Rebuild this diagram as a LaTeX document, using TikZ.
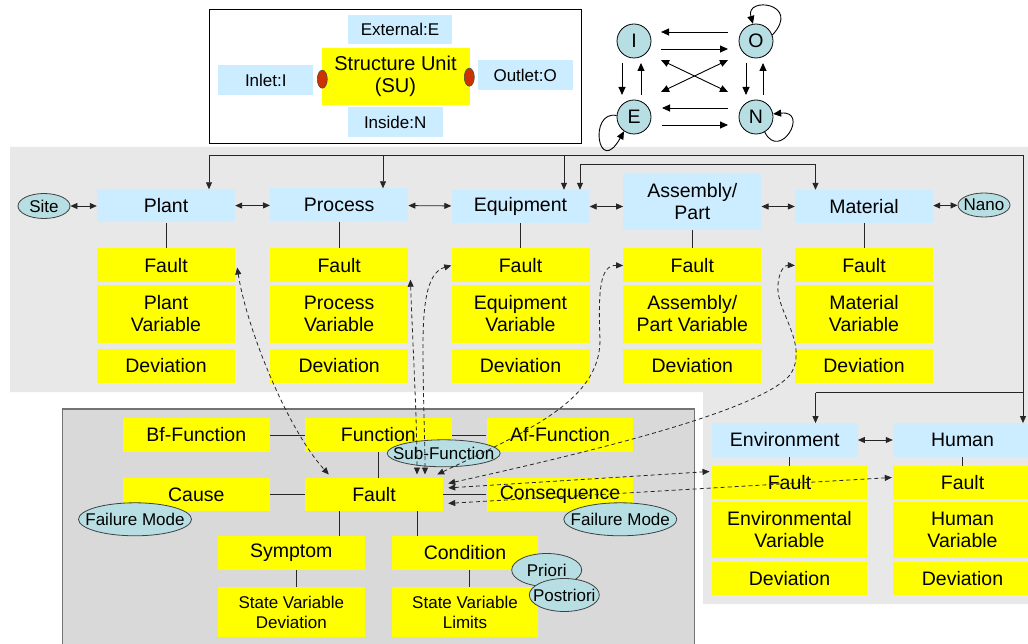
\documentclass[tikz,border=0pt]{standalone}
\usepackage{fontspec}
\setmainfont{Liberation Sans}
\usetikzlibrary{arrows.meta,shapes.geometric,calc}
\definecolor{ylw}{RGB}{255,255,0}
\definecolor{lblue}{RGB}{204,236,255}
\definecolor{tealc}{RGB}{183,222,226}
\definecolor{panA}{RGB}{232,232,232}
\definecolor{panB}{RGB}{217,217,217}
\definecolor{redd}{RGB}{204,51,0}
\newcommand\fbig{\fontsize{19.5}{22}\selectfont}
\newcommand\fsmall{\fontsize{17}{20}\selectfont}
\newcommand\fsu{\fontsize{20}{22}\selectfont}
\newcommand\zb[1]{\makebox[0pt]{#1}}
\tikzset{
  ybox/.style={fill=ylw, draw=none, inner sep=0pt, align=center, font=\fbig},
  bbox/.style={fill=lblue, draw=none, inner sep=0pt, align=center, font=\fbig},
  ell/.style={ellipse, fill=tealc, draw=black!75, line width=0.8pt, inner sep=0pt, font=\fsmall},
  circ/.style={circle, fill=tealc, draw=black, line width=0.8pt, inner sep=0pt, minimum size=34pt, font=\fbig},
  redell/.style={ellipse, fill=redd, draw=black!70, line width=0.6pt, inner sep=0pt, minimum width=10pt, minimum height=18pt},
  conn/.style={draw=black!85, line width=0.8pt},
  sarr/.style={conn, -{Triangle[length=7pt,width=6pt]}},
  darr/.style={conn, {Triangle[length=7pt,width=6pt]}-{Triangle[length=7pt,width=6pt]}},
  dsh/.style={draw=black!85, line width=0.8pt, dash pattern=on 4pt off 3pt, {Triangle[length=7pt,width=6pt]}-{Triangle[length=7pt,width=6pt]}},
  fw/.style={minimum width=138pt},
  iarr/.style={draw=black, line width=0.9pt, -{Triangle[length=8pt,width=7pt]}},
  iarr2/.style={draw=black, line width=0.9pt, {Triangle[length=8pt,width=7pt]}-{Triangle[length=8pt,width=7pt]}},
}
\begin{document}
\begin{tikzpicture}[x=1pt,y=-1pt]
\clip (0,0) rectangle (1028,644);
\fill[white] (0,0) rectangle (1028,644);
% panels
\fill[panA] (10,147) -- (1028,147) -- (1028,604) -- (703,604) -- (703,392) -- (10,392) -- cycle;
\filldraw[fill=panB, draw=black!55, line width=1.2pt] (62.7,409) rectangle (694.3,660);
\filldraw[fill=white, draw=black, line width=1pt] (209,9.5) rectangle (581.7,143.5);

% --- structure unit box
\node[bbox, font=\fsmall, minimum width=104pt, minimum height=29pt] (ext) at (400,29.5) {External:E};
\node[ybox, font=\fsu, minimum width=148pt, minimum height=57pt] (su) at (395.5,76.7) {Structure Unit\\(SU)};
\node[bbox, font=\fsmall, minimum width=95pt, minimum height=30pt] (inl) at (265.8,80) {Inlet:I};
\node[bbox, font=\fsmall, minimum width=95pt, minimum height=30pt] (outl) at (525.2,75) {Outlet:O};
\node[bbox, font=\fsmall, minimum width=95pt, minimum height=30pt] (ins) at (395.2,122.3) {Inside:N};
\node[redell] (rl) at (322.3,79.2) {};
\node[redell] (rr) at (469.3,77.2) {};

% --- IOEN graph
\node[circ] (I) at (634,41) {I};
\node[circ] (O) at (756,41) {O};
\node[circ] (E) at (634,117) {E};
\node[circ] (N) at (756,117) {N};
\draw[iarr] ($(O)+(-28,-9)$) -- ($(I)+(27,-9)$);
\draw[iarr] ($(I)+(27,8)$) -- ($(O)+(-28,8)$);
\draw[iarr] ($(N)+(-28,-9)$) -- ($(E)+(28,-9)$);
\draw[iarr] ($(E)+(28,8)$) -- ($(N)+(-28,8)$);
\draw[iarr] ($(I)+(-12,22)$) -- ($(E)+(-12,-22)$);
\draw[iarr] ($(E)+(7,-22)$) -- ($(I)+(7,22)$);
\draw[iarr] ($(O)+(-10,22)$) -- ($(N)+(-10,-22)$);
\draw[iarr] ($(N)+(7,-22)$) -- ($(O)+(7,22)$);
\draw[iarr2] ($(I)+(27,19)$) -- ($(N)+(-28,-25)$);
\draw[iarr2] ($(O)+(-28,19)$) -- ($(E)+(27,-25)$);
\draw[iarr] (O.20) .. controls (802,3) and (745,-4) .. (O.100);
\draw[iarr] (E.175) .. controls (588,110) and (598,178) .. (E.235);
\draw[iarr] (N.-60) .. controls (780,162) and (810,110) .. (N.10);

% --- top row
\node[ell, minimum width=52pt, minimum height=25pt] (site) at (44,206) {\zb{Site}};
\node[bbox, fw, minimum height=33pt] (plant) at (166,206) {Plant};
\node[bbox, fw, minimum height=33pt] (proc) at (339.2,205) {Process};
\node[bbox, fw, minimum height=33pt] (equip) at (520.5,206.5) {Equipment};
\node[bbox, fw, minimum height=57pt] (asm) at (692.3,201.3) {Assembly/\\Part};
\node[bbox, fw, minimum height=33pt] (mat) at (864,206.5) {Material};
\node[ell, minimum width=52pt, minimum height=24pt] (nano) at (984,205) {\zb{Nano}};

\foreach \n/\x in {p/166, pr/339.2, eq/520.5, as/692.3, m/864}{
  \node[ybox, fw, minimum height=34pt] (\n f) at (\x,265.5) {Fault};
  \node[ybox, fw, minimum height=34pt] (\n d) at (\x,366) {Deviation};
}
\node[ybox, fw, minimum height=57pt] (pv) at (166,314) {Plant\\Variable};
\node[ybox, fw, minimum height=57pt] (prv) at (339.2,314) {Process\\Variable};
\node[ybox, fw, minimum height=57pt] (eqv) at (520.5,314) {Equipment\\Variable};
\node[ybox, fw, minimum height=57pt] (asv) at (692.3,314) {Assembly/\\Part Variable};
\node[ybox, fw, minimum height=57pt] (mv) at (864,314) {Material\\Variable};

\draw[darr] (site) -- (plant);
\draw[darr] (plant) -- (proc);
\draw[darr] (proc) -- (equip);
\draw[darr] (equip.east) -- (equip.east -| asm.west);
\draw[darr] (asm.east |- mat.west) -- (mat.west);
\draw[darr] (mat) -- (nano);
\draw[conn] (plant.south) -- (pf.north);
\draw[conn] (proc.south) -- (prf.north);
\draw[conn] (equip.south) -- (eqf.north);
\draw[conn] (asm.south) -- (asf.north);
\draw[conn] (mat.south) -- (mf.north);

% --- environment / human
\node[bbox, minimum width=146pt, minimum height=33.4pt] (env) at (784.7,440) {Environment};
\node[bbox, minimum width=139pt, minimum height=33.4pt] (hum) at (962.5,440) {Human};
\node[ybox, minimum width=155.6pt, minimum height=33pt] (ef) at (789.5,482.5) {Fault};
\node[ybox, minimum width=155.6pt, minimum height=56.6pt] (ev) at (789.5,530) {Environmental\\Variable};
\node[ybox, minimum width=155.6pt, minimum height=33.4pt] (ed) at (789.5,578.3) {Deviation};
\node[ybox, minimum width=139pt, minimum height=33pt] (hf) at (962.5,482.5) {Fault};
\node[ybox, minimum width=139pt, minimum height=56.6pt] (hv) at (962.5,530) {Human\\Variable};
\node[ybox, minimum width=139pt, minimum height=33.4pt] (hd) at (962.5,578.3) {Deviation};
\draw[darr] (env) -- (hum);
\draw[conn] (ef.north |- env.south) -- (ef.north);
\draw[conn] (hum.south) -- (hf.north);

% --- bus connectors
\coordinate (busA) at (209,155.5);
\coordinate (busB) at (1023,155.5);
\coordinate (busP) at (383,155.5);
\coordinate (busE) at (564,155.5);
\coordinate (busC) at (580,164.5);
\coordinate (busD) at (815.5,164.5);
\coordinate (busF) at (815.5,392.7);
\draw[conn] (busA) -- (busB);
\draw[sarr] (busA) -- (busA |- plant.north);
\draw[sarr] (busP) -- (busP |- proc.north);
\draw[sarr] (busE) -- (busE |- equip.north);
\draw[sarr] (busB) -- (busB |- hum.north);
\draw[sarr] (busC) -- (busC |- equip.north);
\draw[sarr] (busC) -- (busD) -- (busD |- mat.north);
\draw[conn] (busF) -- (busF -| busB);
\draw[sarr] (busF) -- (busF |- env.north);

% --- bottom-left panel
\node[ybox, minimum width=147.3pt, minimum height=33.4pt] (bf) at (196.3,435) {Bf-Function};
\node[ybox, minimum width=146.7pt, minimum height=33.4pt] (fn) at (378.3,435) {Function};
\node[ybox, minimum width=146.7pt, minimum height=33.4pt] (af) at (560,435) {Af-Function};
\node[ybox, minimum width=147.3pt, minimum height=33.4pt] (cause) at (196.3,494.4) {Cause};
\node[ybox, minimum width=138pt, minimum height=33.4pt] (cf) at (374,494.4) {Fault};
\node[ybox, minimum width=146.7pt, minimum height=33.4pt] (cq) at (560,494.4) {Consequence};
\node[ybox, minimum width=147.3pt, minimum height=34pt] (sym) at (291.3,553) {Symptom};
\node[ybox, minimum width=146.7pt, minimum height=34pt] (cond) at (465,553) {Condition};
\node[ybox, font=\fsmall, minimum width=147.3pt, minimum height=50pt] (svd) at (291.3,612.3) {State Variable\\Deviation};
\node[ybox, font=\fsmall, minimum width=146.7pt, minimum height=50pt] (svl) at (465,612.3) {State Variable\\Limits};

\draw[conn] (bf.east) -- (fn.west);
\draw[conn] (fn.east) -- (af.west);
\draw[conn] (fn.south) -- (fn.south |- cf.north);
\draw[conn] (cause.east) -- (cf.west);
\draw[conn] (cf.east) -- (cq.west);
\coordinate (cfs1) at ($(cf.south)+(-35,0)$);
\coordinate (cfs2) at ($(cf.south)+(43,0)$);
\draw[conn] (cfs1) -- (cfs1 |- sym.north);
\draw[conn] (cfs2) -- (cfs2 |- cond.north);
\coordinate (sys1) at ($(sym.south)+(5,0)$);
\coordinate (cos1) at ($(cond.south)+(4,0)$);
\draw[conn] (sys1) -- (sys1 |- svd.north);
\draw[conn] (cos1) -- (cos1 |- svl.north);

\node[ell, minimum width=113pt, minimum height=33pt] (fml) at (135,519.3) {\zb{Failure Mode}};
\node[ell, minimum width=113pt, minimum height=33pt] (fmr) at (620.3,519.3) {\zb{Failure Mode}};
\node[ell, minimum width=113pt, minimum height=27pt] (subf) at (443.7,453.3) {\zb{Sub-Function}};
\node[ell, minimum width=70pt, minimum height=33pt] (pri) at (546.7,570) {\zb{Priori}};
\node[ell, minimum width=70pt, minimum height=33pt] (post) at (564.3,595) {\zb{Postriori}};

% --- dashed fault links
\draw[dsh] ($(pf.east)+(2,2)$) .. controls (247,330) and (288,430) .. ($(cf.north west)+(24,-3)$);
\draw[dsh] ($(prf.south east)+(2,-3)$) .. controls (413,350) and (417,420) .. ($(cf.north)+(43,-3)$);
\draw[dsh] (eqf.west) .. controls (428,272) and (423,300) .. (423,345) .. controls (423,400) and (425,440) .. ($(cf.north)+(51,-3)$);
\draw[dsh] ($(cf.north east)+(-6,-3)$) .. controls (530,430) and (600,400) .. (600,340) .. controls (598,290) and (600,265) .. (asf.west);
\draw[dsh] ($(cf.east)+(5,-11)$) .. controls (600,450) and (760,410) .. (790,375) .. controls (810,345) and (775,310) .. (778,285) .. controls (779,270) and (785,265) .. (mf.west);
\draw[dsh] ($(cf.east)+(5,-6.5)$) -- ($(ef.west)+(-2,-11)$);
\draw[dsh] ($(cf.east)+(5,9)$) -- ($(hf.west)+(-1,-5)$);
\end{tikzpicture}
\end{document}
